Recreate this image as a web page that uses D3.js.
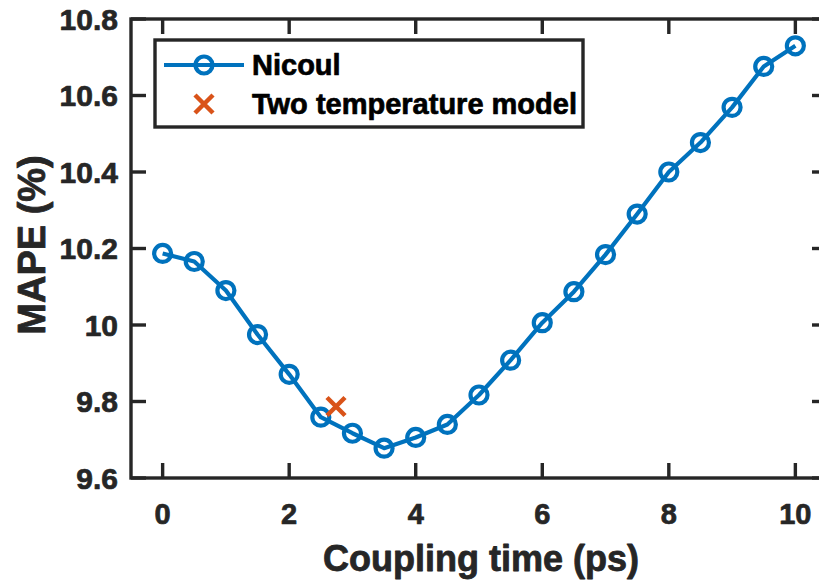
<!DOCTYPE html>
<html>
<head>
<meta charset="utf-8">
<script src="https://cdn.jsdelivr.net/npm/d3@7"></script>
<style>
  html, body { margin: 0; padding: 0; background: #fff; overflow: hidden; }
  svg { display: block; font-family: "Liberation Sans", Arial, Helvetica, sans-serif; font-weight: bold; }
</style>
</head>
<body>
<svg id="chart" width="819" height="581"></svg>
<script>
// Coupling time sweep (ps) and the resulting MAPE (%)
const couplingTime = [0, 0.5, 1, 1.5, 2, 2.5, 3, 3.5, 4, 4.5, 5, 5.5, 6, 6.5, 7, 7.5, 8, 8.5, 9, 9.5, 10];
const mapeNicoul = [10.187, 10.166, 10.090, 9.975, 9.871, 9.759, 9.717, 9.678, 9.706, 9.740, 9.817,
                    9.908, 10.006, 10.087, 10.184, 10.290, 10.400, 10.477, 10.569, 10.676, 10.730];
// Single result from the two temperature model
const ttmTime = [2.74];
const ttmMape = [9.787];

const xTicks = [0, 2, 4, 6, 8, 10];
const yTicks = [9.6, 9.8, 10, 10.2, 10.4, 10.6, 10.8];
const yTickLabels = ["9.6", "9.8", "10", "10.2", "10.4", "10.6", "10.8"];
const seriesNames = ["Nicoul", "Two temperature model"];

const blue = "#0072BD", orange = "#D95319", axisColor = "#262626";

const svg = d3.select("#chart");
const plotLeft = 131, plotRight = 827, plotTop = 19, plotBottom = 478;

const x = d3.scaleLinear().domain([-0.5, 10.5]).range([plotLeft, plotRight]);
const y = d3.scaleLinear().domain([9.6, 10.8]).range([plotBottom, plotTop]);

const tickLen = 15;

// Axes box with inward ticks on all four sides
const axes = svg.append("g").attr("stroke", axisColor).attr("stroke-width", 3.4).attr("fill", "none");
axes.append("rect").attr("x", plotLeft).attr("y", plotTop)
  .attr("width", plotRight - plotLeft).attr("height", plotBottom - plotTop);
xTicks.forEach(t => {
  axes.append("line").attr("x1", x(t)).attr("x2", x(t)).attr("y1", plotBottom).attr("y2", plotBottom - tickLen);
  axes.append("line").attr("x1", x(t)).attr("x2", x(t)).attr("y1", plotTop).attr("y2", plotTop + tickLen);
});
yTicks.forEach(t => {
  axes.append("line").attr("x1", plotLeft).attr("x2", plotLeft + tickLen).attr("y1", y(t)).attr("y2", y(t));
  axes.append("line").attr("x1", plotRight).attr("x2", plotRight - tickLen).attr("y1", y(t)).attr("y2", y(t));
});

// Heavier bold text: fill plus a thin outline of the same colour
function heavy(sel, color, w) {
  return sel.attr("fill", color).attr("stroke", color).attr("stroke-width", w).attr("stroke-linejoin", "round");
}

// Tick labels
heavy(svg.append("g").selectAll("text").data(xTicks).join("text")
  .attr("x", d => x(d)).attr("y", 524)
  .attr("text-anchor", "middle").attr("font-size", 29)
  .text(d => d3.format("d")(d)), axisColor, 0.7);
heavy(svg.append("g").selectAll("text").data(yTicks).join("text")
  .attr("x", 118).attr("y", d => y(d) + 10.5)
  .attr("text-anchor", "end").attr("font-size", 30)
  .text((d, i) => yTickLabels[i]), axisColor, 0.7);

// Axis titles
heavy(svg.append("text").attr("x", 481).attr("y", 571).attr("text-anchor", "middle")
  .attr("font-size", 36).text("Coupling time (ps)"), axisColor, 0.8);
heavy(svg.append("text").attr("transform", "translate(45,245) rotate(-90)").attr("text-anchor", "middle")
  .attr("font-size", 38).text("MAPE (%)"), axisColor, 0.8);

// Nicoul series: line with open circle markers
const line = d3.line().x((d, i) => x(couplingTime[i])).y(d => y(d));
svg.append("path").datum(mapeNicoul).attr("d", line)
  .attr("fill", "none").attr("stroke", blue).attr("stroke-width", 4.2).attr("stroke-linejoin", "round");
svg.append("g").selectAll("circle").data(mapeNicoul).join("circle")
  .attr("cx", (d, i) => x(couplingTime[i])).attr("cy", d => y(d)).attr("r", 8.5)
  .attr("fill", "none").attr("stroke", blue).attr("stroke-width", 4.2);

// Two temperature model point as a cross
function cross(g, cx, cy, s) {
  g.append("path").attr("d", `M${cx - s},${cy - s}L${cx + s},${cy + s}M${cx - s},${cy + s}L${cx + s},${cy - s}`)
    .attr("stroke", orange).attr("stroke-width", 4.5).attr("fill", "none");
}
ttmTime.forEach((t, i) => cross(svg, x(t), y(ttmMape[i]), 9));

// Legend
const lg = svg.append("g");
lg.append("rect").attr("x", 155).attr("y", 40).attr("width", 428).attr("height", 87)
  .attr("fill", "#fff").attr("stroke", "#262626").attr("stroke-width", 3.4);
lg.append("line").attr("x1", 164).attr("x2", 244).attr("y1", 65).attr("y2", 65)
  .attr("stroke", blue).attr("stroke-width", 4.2);
lg.append("circle").attr("cx", 204).attr("cy", 65).attr("r", 8.5)
  .attr("fill", "none").attr("stroke", blue).attr("stroke-width", 4.2);
cross(lg, 204, 104, 9);
heavy(lg.selectAll("text.lab").data(seriesNames).join("text").attr("class", "lab")
  .attr("x", 252).attr("y", (d, i) => 75 + i * 39)
  .attr("font-size", 29).text(d => d), "#000", 0.7);
</script>
</body>
</html>
